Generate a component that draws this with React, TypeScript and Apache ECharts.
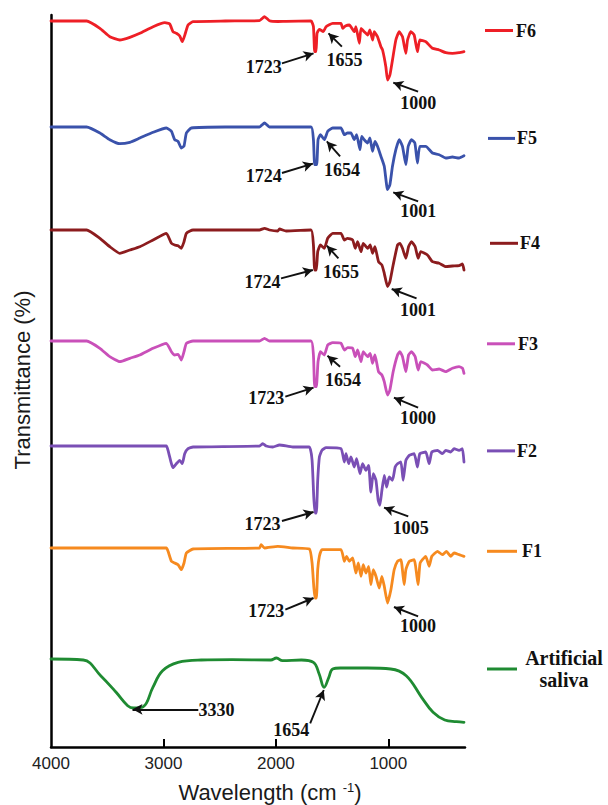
import React, { useEffect, useRef } from "react";
import * as echarts from "echarts";

// ---- data (wavenumber cm-1, relative transmittance; 0 = trace baseline) ----
const seriesNames = ["F6", "F5", "F4", "F3", "F2", "F1", "Artificial saliva"];
const seriesColors = ["#ee1f26", "#3a52ab", "#8c1c1e", "#c950b9", "#7a4fb5", "#f68a1f", "#1f8b32"];
const baselineOffsets = [726, 620, 517, 406, 301, 199, 88];
const xTickValues = [4000, 3000, 2000, 1000];

const f6 = [
  [4000, 0], [3683, 0], [3565, -7.3], [3477, -15.7], [3388, -19], [3299, -16.3], [3210, -12.3], [3092, -5.7],
  [2988, -1.7], [2944, -3], [2915, -10.7], [2885, -12.3], [2855, -15], [2832, -20.7], [2805, -12.3], [2781, -4],
  [2737, -0.7], [2450, 0], [2146, 0.3], [2101, 4.3], [2057, 0.3], [1983, -0.5], [1909, -0.3], [1687, 0], [1666, -5.7],
  [1655, -30.7], [1643, -30.7], [1634, -12.3], [1613, -8.3], [1578, -10.7], [1554, -5.7], [1495, -2.3],
  [1421, -2.3], [1406, -7.3], [1382, -5], [1347, -4], [1303, -10.7], [1288, -5.7], [1258, -22.3], [1243, -7.3],
  [1214, -10.7], [1184, -14], [1164, -9], [1140, -19], [1125, -10.7], [1096, -15.7], [1066, -25.7], [1051, -29],
  [1022, -45.7], [1007, -59], [986, -54], [963, -39], [933, -19], [903, -10.7], [874, -15.7], [844, -32.3],
  [829, -19], [800, -10.7], [770, -14], [741, -30.7], [720, -19], [667, -20.7], [608, -27.3], [548, -29],
  [489, -31.7], [430, -32.3], [371, -31.7], [327, -30.7],
];
const f5 = [
  [4000, 0], [3683, 0], [3565, -6], [3477, -12.7], [3388, -16.7], [3299, -15.3], [3210, -11], [3092, -5.3],
  [2974, -1], [2929, -4.3], [2900, -12.7], [2870, -14.3], [2841, -21], [2817, -19], [2796, -6], [2752, -1],
  [2450, 0], [2146, 0], [2101, 4], [2057, 0], [1687, 0], [1666, -12.7], [1655, -37.7], [1637, -37.7], [1625, -12.7],
  [1604, -7.7], [1569, -12.7], [1539, -4.3], [1495, -1], [1421, -1], [1391, -7.7], [1362, -6], [1332, -6],
  [1303, -12.7], [1282, -7.7], [1252, -22.7], [1237, -9.3], [1214, -12.7], [1184, -16], [1164, -11], [1140, -24.3],
  [1119, -14.3], [1096, -19.3], [1066, -29.3], [1036, -39.3], [1007, -62.7], [986, -57.7], [963, -39.3],
  [933, -22.7], [903, -12.7], [874, -19.3], [844, -37.7], [823, -19.3], [794, -12.7], [764, -16], [741, -36],
  [720, -19.3], [667, -19.3], [608, -26], [548, -27.7], [489, -31], [430, -30], [371, -31], [327, -28.7],
];
const f4 = [
  [4000, 0], [3683, 0], [3565, -8.3], [3477, -16.7], [3388, -23.3], [3299, -20], [3210, -16.7], [3092, -10],
  [2974, -3.3], [2929, -13.3], [2900, -15], [2870, -15.7], [2841, -18.3], [2817, -11.7], [2796, -3.3], [2737, 0],
  [2146, 0], [2101, 1.7], [2057, 0], [1983, -1], [1968, 1], [1909, -1], [1687, 0], [1666, -15], [1655, -40],
  [1640, -40], [1628, -21.7], [1604, -15], [1569, -18.3], [1539, -8.3], [1495, -3.3], [1421, -3.3], [1391, -10],
  [1362, -8.3], [1317, -10], [1294, -18.3], [1273, -11.7], [1243, -21.7], [1223, -13.3], [1184, -18.3],
  [1161, -15], [1140, -23.3], [1119, -16.7], [1087, -31.7], [1057, -35], [1036, -43.3], [1007, -56.7],
  [986, -51.7], [957, -35], [918, -15], [897, -13.3], [874, -18.3], [844, -28.3], [820, -16.7], [794, -11.7],
  [761, -16.7], [735, -28.3], [711, -21.7], [652, -25], [608, -31.7], [548, -33.3], [489, -36.7], [430, -36],
  [371, -35.7], [341, -34], [327, -40],
];
const f3 = [
  [4000, 0], [3683, 0], [3565, -7.3], [3477, -15.7], [3388, -20.7], [3299, -17.3], [3210, -14], [3092, -7.3],
  [2974, -2.3], [2929, -10.7], [2900, -14], [2870, -13.3], [2841, -19], [2817, -10.7], [2796, -2.3], [2737, 0],
  [2146, 0], [2101, 2.7], [2057, 0], [1687, 0], [1666, -14], [1655, -45.7], [1640, -45.7], [1625, -20.7],
  [1604, -10.7], [1569, -14], [1539, -4], [1495, -1.7], [1421, -2.3], [1391, -9], [1362, -6.7], [1317, -7.3],
  [1294, -15.7], [1273, -9], [1243, -20.7], [1223, -10.7], [1184, -15.7], [1161, -12.3], [1140, -22.3],
  [1119, -14], [1087, -30.7], [1057, -34], [1036, -40.7], [1007, -54], [986, -49], [957, -30.7], [918, -14],
  [897, -10.7], [874, -15.7], [844, -30.7], [820, -14], [794, -10.7], [761, -15.7], [735, -29], [711, -20.7],
  [652, -24], [608, -29], [548, -28], [489, -30.7], [430, -27.3], [371, -25.7], [341, -27], [327, -32.3],
];
const f2 = [
  [4000, 0], [3000, 0], [2974, 0], [2959, -4.3], [2929, -17.7], [2915, -21.7], [2885, -17.7], [2855, -14.3],
  [2832, -17.7], [2811, -7.7], [2781, -2.7], [2737, -1], [2146, 0], [2116, 2.3], [2087, 0], [2027, -1], [1968, 1],
  [1850, -1], [1702, -1], [1678, -14.3], [1663, -51], [1652, -67], [1640, -67], [1628, -34.3], [1613, -11],
  [1590, -4.3], [1554, -1.7], [1421, -2.7], [1391, -16], [1376, -7.7], [1353, -17.7], [1332, -11], [1303, -21],
  [1282, -12.7], [1252, -27.7], [1229, -17.7], [1199, -24.3], [1175, -19.3], [1155, -46], [1134, -27.7],
  [1110, -34.3], [1090, -54.3], [1075, -59.3], [1057, -44.3], [1036, -29.3], [1016, -41], [992, -31],
  [963, -34.3], [939, -21], [918, -17.7], [888, -16], [868, -34.3], [844, -14.3], [814, -9.3], [770, -7.7],
  [741, -21], [720, -7.7], [667, -6], [637, -17.7], [613, -6], [563, -4.3], [519, -7.7], [489, -4.3], [445, -6],
  [415, -2.7], [371, -4.3], [341, -2.7], [327, -16],
];
const f1 = [
  [4000, 0], [3000, 0], [2974, 0], [2959, -3.3], [2929, -13.3], [2900, -15], [2870, -16.7], [2841, -21.7],
  [2817, -15], [2796, -5], [2737, -1], [2146, 0], [2131, 3.3], [2101, 0], [1983, 1.7], [1850, 0], [1702, -1],
  [1678, -15], [1663, -38.3], [1652, -50], [1640, -50], [1628, -21.7], [1613, -8.3], [1590, -1.7], [1421, -1.7],
  [1391, -13.3], [1371, -8.3], [1347, -13.3], [1317, -10], [1288, -25], [1267, -15], [1243, -28.3], [1223, -16.7],
  [1199, -25], [1175, -18.3], [1155, -36.7], [1134, -21.7], [1110, -28.3], [1081, -40], [1057, -28.3],
  [1036, -38.3], [1007, -55], [977, -41.7], [948, -21.7], [918, -13.3], [888, -11.7], [859, -36.7], [844, -21.7],
  [814, -13.3], [770, -11.7], [735, -36.7], [717, -15], [667, -8.3], [637, -18.3], [613, -8.3], [563, -3.3],
  [519, -6.7], [483, -3.3], [445, -8.3], [415, -5], [371, -6.7], [327, -8.3],
];
const saliva = [
  [4000, 0], [3713, -1], [3558, -16.7], [3421, -33.3], [3318, -46.7], [3266, -49], [3180, -47.7], [3094, -28.3],
  [3008, -11.7], [2870, -3.3], [2664, -1], [2389, -0.7], [2045, -1], [1995, 1], [1941, -1.7], [1773, -1],
  [1666, -3.3], [1615, -15], [1571, -28.3], [1529, -18.3], [1495, -10], [1427, -9], [1186, -9], [979, -10],
  [841, -16.7], [704, -38.3], [602, -53.3], [498, -61], [394, -62.7], [327, -63.3],
];
const traces = [f6, f5, f4, f3, f2, f1, saliva];
const traceSmooth = [0.15, 0.15, 0.15, 0.15, 0.15, 0.15, 0.4];

// annotations: [label, labelX, labelY, tailX, tailY, tipX, tipY] (y relative to trace baseline)
const f6Notes = [
  ["1723", 2107, -45.7, 1946, -42.3, 1665, -32.3],
  ["1655", 1389, -39, 1413, -25.7, 1532, -12.3],
  ["1000", 733, -82, 735, -70.7, 956, -61.7],
];
const f5Notes = [
  ["1724", 2107, -49.4, 1946, -46, 1671, -36.7],
  ["1654", 1411, -42.7, 1429, -29.4, 1547, -14.4],
  ["1001", 733, -84.4, 735, -74.4, 956, -65.4],
];
const f4Notes = [
  ["1724", 2120, -51.7, 1954, -48.3, 1671, -40],
  ["1655", 1420, -42.3, 1444, -28.3, 1547, -15.7],
  ["1001", 737, -80, 749, -68.3, 970, -59],
];
const f3Notes = [
  ["1723", 2085, -57.3, 1916, -55.7, 1665, -46.7],
  ["1654", 1402, -39, 1429, -25.7, 1541, -14.7],
  ["1000", 735, -77.3, 735, -66.7, 950, -56.7],
];
const f2Notes = [
  ["1723", 2120, -77.6, 1946, -75, 1665, -66],
  ["1005", 801, -81.6, 823, -70.3, 1038, -61.6],
];
const f1Notes = [
  ["1723", 2085, -63.4, 1916, -61.7, 1665, -50],
  ["1000", 735, -78.4, 735, -68.4, 950, -59],
];
const salivaNotes = [
  ["3330", 2528, -51, 2690, -50.3, 3275, -50.3],
  ["1654", 1863, -71, 1695, -64.3, 1574, -31],
];
const notes = [f6Notes, f5Notes, f4Notes, f3Notes, f2Notes, f1Notes, salivaNotes];

// ---- layout (pixels) ----
const legendRows = [
  { y: 30.5, x1: 485, x2: 513, tx: 516 },
  { y: 138.4, x1: 488, x2: 515, tx: 517 },
  { y: 243.3, x1: 490, x2: 518, tx: 520 },
  { y: 343.8, x1: 487, x2: 515, tx: 518 },
  { y: 450.9, x1: 487, x2: 515, tx: 517 },
  { y: 551.3, x1: 487, x2: 517, tx: 522 },
  { y: 669, x1: 487, x2: 517, tx: 564 },
];

export default function App() {
  const ref = useRef<HTMLDivElement>(null);
  useEffect(() => {
    if (!ref.current) return;
    const chart = echarts.init(ref.current, null, { renderer: "svg" });
    const noteFont = { fontFamily: "Liberation Serif", fontWeight: "bold" as const, fontSize: 18, color: "#111" };

    const series = traces.map((data, i) => {
      const off = baselineOffsets[i];
      return {
        type: "line",
        name: seriesNames[i],
        data: data.map(([w, t]) => [w, off + t]),
        symbol: "none",
        showSymbol: false,
        silent: true,
        smooth: traceSmooth[i],
        lineStyle: { color: seriesColors[i], width: 2.8, cap: "round", join: "round" },
        itemStyle: { color: seriesColors[i] },
        markLine: {
          silent: true,
          symbol: ["none", "arrow"],
          symbolSize: [8, 10],
          label: { show: false },
          lineStyle: { color: "#111", width: 1.9, type: "solid" },
          data: notes[i].map((n: any) => [
            { coord: [n[3], off + n[4]] },
            { coord: [n[5], off + n[6]] },
          ]),
        },
        markPoint: {
          silent: true,
          symbol: "circle",
          symbolSize: 1,
          itemStyle: { color: "rgba(0,0,0,0)" },
          label: { show: true, position: "inside", formatter: (p: any) => p.name, ...noteFont },
          data: notes[i].map((n: any) => ({ name: n[0], coord: [n[1], off + n[2]] })),
        },
      };
    });

    const graphic: any[] = [
      {
        type: "text",
        x: 270,
        y: 792,
        style: {
          text: "Wavelength (cm {sup|-1})",
          font: "22px 'Liberation Sans'",
          fill: "#1a1a1a",
          align: "center",
          verticalAlign: "middle",
          rich: { sup: { fontSize: 13, fontFamily: "Liberation Sans", verticalAlign: "top", padding: [0, 0, 9, 0] } },
        },
      },
      {
        type: "text",
        x: 22,
        y: 380,
        rotation: Math.PI / 2,
        style: {
          text: "Transmittance (%)",
          font: "22px 'Liberation Sans'",
          fill: "#1a1a1a",
          align: "center",
          verticalAlign: "middle",
        },
      },
    ];
    legendRows.forEach((r, i) => {
      graphic.push({
        type: "line",
        shape: { x1: r.x1, y1: r.y, x2: r.x2, y2: r.y },
        style: { stroke: seriesColors[i], lineWidth: 3 },
      });
      if (i < 6) {
        graphic.push({
          type: "text",
          x: r.tx,
          y: r.y,
          style: { text: seriesNames[i], font: "bold 18px 'Liberation Serif'", fill: "#111", align: "left", verticalAlign: "middle" },
        });
      } else {
        graphic.push({
          type: "text",
          x: r.tx,
          y: r.y,
          style: {
            text: "Artificial\nsaliva",
            font: "bold 20px 'Liberation Serif'",
            lineHeight: 22,
            fill: "#111",
            align: "center",
            verticalAlign: "middle",
          },
        });
      }
    });

    chart.setOption({
      animation: false,
      grid: { left: 51, right: 143, top: 15, bottom: 58 },
      xAxis: {
        type: "value",
        inverse: true,
        min: 318,
        max: 4000,
        axisLine: { show: true, onZero: false, lineStyle: { color: "#000", width: 2.5 } },
        axisTick: { show: true, inside: true, length: 8, customValues: [3000, 2000, 1000], lineStyle: { color: "#000", width: 2 } },
        axisLabel: {
          customValues: xTickValues,
          formatter: (v: number) => String(v),
          fontSize: 17,
          color: "#222",
          fontFamily: "Liberation Sans",
          margin: 8,
        },
        splitLine: { show: false },
      },
      yAxis: {
        type: "value",
        min: 0,
        max: 732,
        axisLine: { show: true, onZero: false, lineStyle: { color: "#000", width: 2.5 } },
        axisTick: { show: false },
        axisLabel: { show: false },
        splitLine: { show: false },
      },
      series,
      graphic,
    });
    return () => chart.dispose();
  }, []);
  return <div ref={ref} style={{ position: "absolute", left: 0, top: 0, width: 608, height: 805 }} />;
}
